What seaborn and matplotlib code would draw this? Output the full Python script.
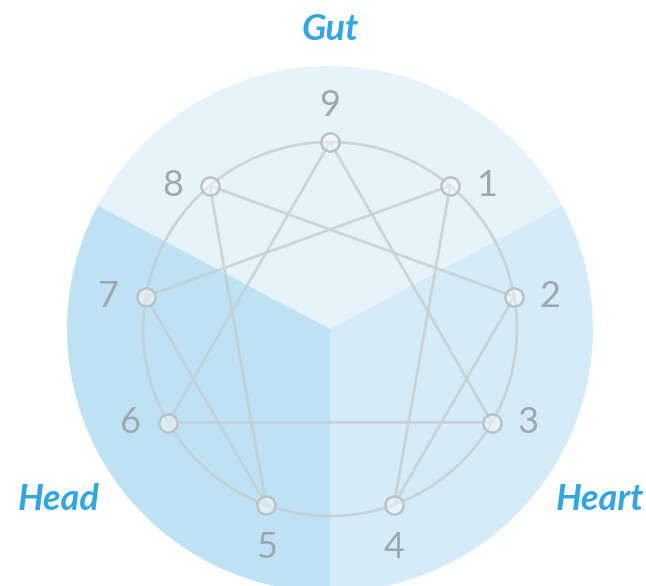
import numpy as np
import pandas as pd
import matplotlib.pyplot as plt
import seaborn as sns
from matplotlib.patches import Wedge, Circle

# Enneagram data
points = [9, 1, 2, 3, 4, 5, 6, 7, 8]
triangle = [9, 3, 6, 9]
hexad = [1, 4, 2, 8, 5, 7, 1]

centers = ["Gut", "Heart", "Head"]
center_spans = [(28, 152), (-90, 28), (152, 270)]
center_colors = ["#E7F3FA", "#D5EBF8", "#BEE2F4"]

sns.set_style("white")
plt.rcParams["font.family"] = ["Lato", "DejaVu Sans"]

# geometry (1 data unit = 1 pixel, origin at diagram centre)
R_OUT = 263
R_IN = 187
line_col = "#C3CDD2"
num_col = "#9DA8AE"
label_col = "#33A5DF"

angles = {p: np.deg2rad(90 - 40 * i) for i, p in enumerate(points)}
pos = pd.DataFrame({
    "point": points,
    "x": [R_IN * np.cos(angles[p]) for p in points],
    "y": [R_IN * np.sin(angles[p]) for p in points],
}).set_index("point")

fig = plt.figure(figsize=(6.46, 5.86), dpi=100)
ax = fig.add_axes([0, 0, 1, 1])

# background wedges
for name, (t1, t2), col in zip(centers, center_spans, center_colors):
    ax.add_patch(Wedge((0, 0), R_OUT, t1, t2, facecolor=col, edgecolor="none", zorder=1))

# inner circle
ax.add_patch(Circle((0, 0), R_IN, facecolor="none", edgecolor=line_col,
                    lw=2, alpha=0.8, zorder=2))

# connecting lines
for seq in (triangle, hexad):
    df = pos.loc[seq].reset_index()
    sns.lineplot(data=df, x="x", y="y", sort=False, estimator=None,
                 color=line_col, lw=2, alpha=0.8, ax=ax, zorder=3)

# nodes
sns.scatterplot(data=pos.reset_index(), x="x", y="y", s=170,
                facecolor=(1, 1, 1, 0.45), edgecolor="#B8C3C8",
                linewidth=1.8, ax=ax, zorder=4)

# number labels
for p in points:
    x, y = pos.loc[p, "x"], pos.loc[p, "y"]
    if p == 9:
        tx, ty = x, y + 36
    elif p in (4, 5):
        tx, ty = x, y - 43
    elif p in (1, 2, 3):
        tx, ty = x + 36, y
    else:
        tx, ty = x - 37, y
    ax.text(tx, ty, str(p), ha="center", va="center", fontsize=26,
            color=num_col, fontweight="normal", zorder=5)

# centre labels
ax.text(0, 299, "Gut", ha="center", va="center", fontsize=26,
        color=label_col, fontweight="bold", fontstyle="italic")
ax.text(-271, -170, "Head", ha="center", va="center", fontsize=26,
        color=label_col, fontweight="bold", fontstyle="italic")
ax.text(270, -170, "Heart", ha="center", va="center", fontsize=26,
        color=label_col, fontweight="bold", fontstyle="italic")

ax.set_xlim(-330, 316)
ax.set_ylim(-257, 329)
ax.set_aspect("equal")
ax.axis("off")

plt.savefig("out.png", dpi=100)
